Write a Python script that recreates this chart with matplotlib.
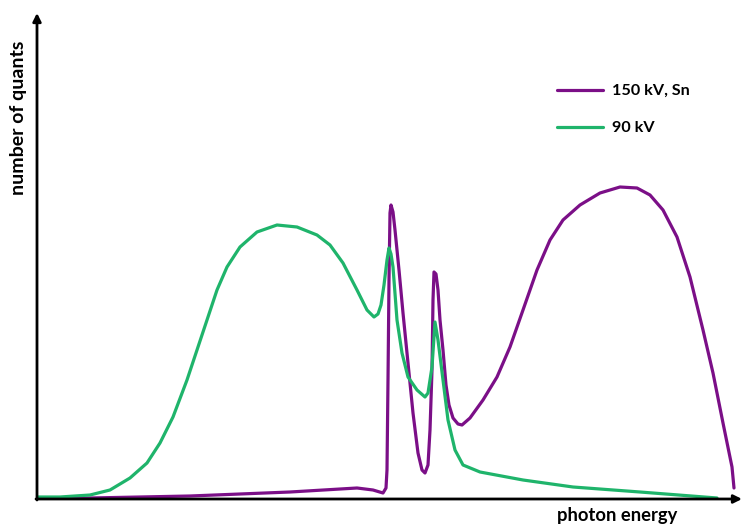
import matplotlib
matplotlib.use('agg')
import matplotlib.pyplot as plt

plt.rcParams['font.family'] = ['Lato', 'DejaVu Sans']

# Spectra (arbitrary units)
energy_90 = [0, 23, 53, 73, 93, 110, 123, 136, 150, 160, 170, 180, 190, 203, 220, 240,
             260, 280, 293, 306, 320, 330, 337, 341, 344, 347, 350, 352, 354, 356, 360,
             365, 371, 380, 388, 391, 395, 398, 401, 406, 411, 418, 426, 443, 486, 536,
             603, 680]
counts_90 = [2, 2, 4, 9, 21, 36, 56, 82, 119, 149, 179, 209, 232, 252, 267, 274,
             272, 264, 254, 236, 209, 189, 182, 185, 194, 214, 239, 251, 245, 232, 179,
             146, 122, 109, 102, 106, 132, 177, 159, 119, 79, 49, 34, 27, 19, 12,
             7, 1]

energy_150 = [0, 53, 153, 253, 320, 336, 346, 349, 350, 351, 352, 353, 354, 356, 358,
              362, 366, 371, 376, 381, 385, 388, 391, 393, 395, 396, 397, 399, 401, 403,
              406, 409, 412, 416, 421, 425, 433, 446, 460, 473, 486, 500, 513, 526, 543,
              563, 583, 600, 613, 626, 640, 653, 666, 676, 686, 695, 697]
counts_150 = [0, 1, 3, 7, 11, 9, 6, 11, 29, 119, 219, 286, 294, 287, 269,
              229, 186, 136, 86, 46, 29, 26, 34, 69, 129, 199, 227, 225, 209, 179,
              149, 114, 94, 81, 75, 74, 81, 99, 122, 152, 189, 229, 259, 279, 294,
              306, 312, 311, 304, 289, 262, 222, 169, 126, 76, 32, 11]

labels = ['150 kV, Sn', '90 kV']
colors = ['#7b0f87', '#1fb46b']

fig = plt.figure(figsize=(7.41, 5.25), dpi=100)
ax = fig.add_axes([37 / 741, 26 / 525, 704 / 741, 484 / 525])
ax.set_xlim(0, 704)
ax.set_ylim(0, 484)
ax.axis('off')

ax.plot(energy_150, counts_150, color=colors[0], lw=2.3, label=labels[0],
        solid_joinstyle='round', solid_capstyle='round')
ax.plot(energy_90, counts_90, color=colors[1], lw=2.3, label=labels[1],
        solid_joinstyle='round', solid_capstyle='round')

# Axis arrows
arrow = dict(arrowstyle='-|>', color='black', lw=2, mutation_scale=12, shrinkA=0, shrinkB=0)
ax.annotate('', xy=(0, 486), xytext=(0, -1), arrowprops=arrow, annotation_clip=False)
ax.annotate('', xy=(705, 0), xytext=(-1, 0), arrowprops=arrow, annotation_clip=False)

fig.text(19 / 741, 1 - 118 / 525, 'number of quants', rotation=90, ha='center',
         va='center', fontsize=14, fontweight='bold')
fig.text(617 / 741, 1 - 515 / 525, 'photon energy', ha='center', va='center',
         fontsize=13.2, fontweight='bold')

ax.legend(loc='upper left', bbox_to_anchor=(520 / 704, 1 - 69 / 484), frameon=False,
          prop={'weight': 'bold', 'size': 11.6}, handlelength=2.86, handletextpad=0.56,
          labelspacing=1.42, borderaxespad=0, borderpad=0)

fig.savefig('out.png', dpi=100)
